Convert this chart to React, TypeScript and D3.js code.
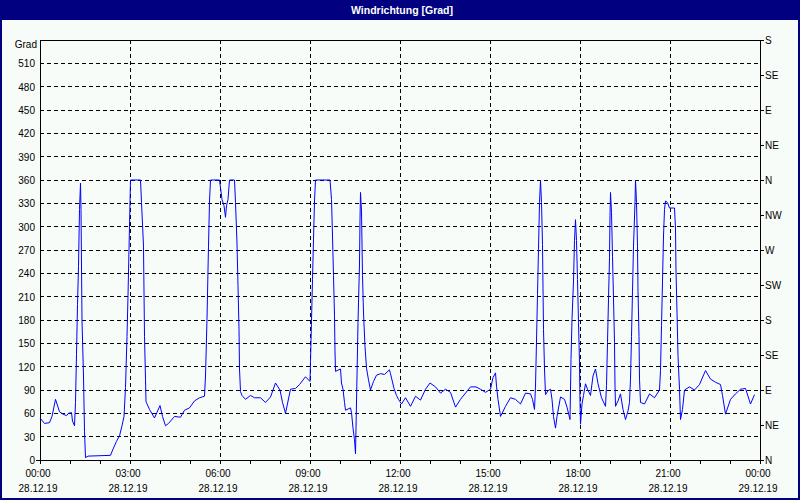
import React from 'react';
import * as d3 from 'd3';

// minutes since 28.12.19 00:00
const minutes = [
  0, 9, 19, 24, 31, 39, 46, 53, 57, 63, 65, 69, 71, 73, 75, 77, 79, 81, 82, 84, 87, 89, 91, 96, 141, 146,
  153, 159, 164, 168, 171, 174, 176, 178, 180, 181, 201, 203, 207, 209, 211, 212, 219, 229, 240, 245, 251,
  257, 269, 281, 289, 299, 309, 319, 329, 331, 334, 337, 339, 341, 359, 364, 368, 371, 373, 376, 379, 389,
  391, 394, 396, 398, 399, 401, 404, 411, 421, 429, 441, 451, 461, 471, 480, 485, 491, 501, 511, 519, 531,
  540, 541, 543, 545, 547, 549, 551, 580, 583, 585, 587, 589, 590, 591, 601, 603, 606, 609, 611, 621, 623,
  626, 629, 631, 632, 634, 636, 639, 640, 641, 643, 645, 647, 650, 653, 657, 661, 667, 673, 681, 689, 699,
  701, 708, 713, 717, 723, 731, 741, 751, 761, 771, 780, 791, 801, 811, 821, 831, 841, 851, 861, 872, 881,
  891, 901, 906, 911, 913, 916, 921, 931, 941, 951, 961, 971, 981, 985, 989, 991, 993, 995, 997, 999, 1001,
  1003, 1005, 1006, 1007, 1009, 1011, 1016, 1021, 1024, 1027, 1031, 1034, 1041, 1049, 1054, 1060, 1062,
  1064, 1067, 1069, 1071, 1073, 1075, 1077, 1079, 1080, 1081, 1084, 1087, 1091, 1095, 1101, 1106, 1111,
  1116, 1123, 1131, 1133, 1135, 1137, 1139, 1140, 1141, 1143, 1145, 1147, 1149, 1150, 1151, 1156, 1161,
  1166, 1171, 1176, 1179, 1181, 1183, 1185, 1187, 1190, 1191, 1193, 1195, 1196, 1198, 1199, 1201, 1209,
  1219, 1229, 1239, 1241, 1243, 1245, 1247, 1249, 1251, 1255, 1259, 1269, 1271, 1272, 1274, 1276, 1279,
  1281, 1285, 1289, 1299, 1309, 1319, 1331, 1341, 1351, 1361, 1365, 1371, 1381, 1391, 1401, 1411, 1421, 1429,
];

// Windrichtung in Grad
const degrees = [
  54, 47, 48, 56, 78, 62, 59, 57, 60, 61, 50, 44, 74, 136, 200, 249, 322, 356, 322, 179, 108, 37, 3, 5, 6, 14,
  24, 31, 44, 56, 93, 159, 211, 271, 331, 360, 360, 331, 275, 159, 104, 75, 65, 54, 70, 56, 44,
  47, 56, 55, 64, 67, 76, 80, 82, 108, 181, 275, 333, 360, 360, 335, 327, 312, 327, 335, 360, 360,
  331, 279, 224, 168, 117, 88, 83, 78, 83, 80, 80, 74, 81, 99, 90, 74, 60, 91, 92, 97, 107,
  101, 127, 179, 232, 284, 333, 360, 360, 335, 288, 237, 185, 139, 114, 117, 99, 91, 74, 64, 67, 61,
  41, 26, 8, 41, 108, 177, 252, 309, 344, 320, 237, 189, 146, 118, 103, 90, 101, 109, 111, 110, 116,
  111, 92, 83, 78, 72, 80, 69, 82, 77, 91, 99, 94, 86, 91, 87, 68, 78, 86, 94, 94, 91,
  87, 91, 106, 112, 95, 78, 56, 69, 80, 78, 72, 86, 85, 78, 65, 95, 153, 213, 271, 331, 360,
  331, 277, 221, 168, 117, 84, 89, 91, 78, 56, 41, 56, 81, 78, 68, 52, 129,
  181, 230, 282, 309, 282, 232, 177, 125, 74, 46, 72, 83, 98, 91, 83, 108, 117,
  98, 80, 69, 96, 151, 207, 260, 314, 344, 318, 262, 207, 151, 95, 69, 76, 85,
  65, 52, 63, 74, 104, 159, 217, 275, 331, 360, 331, 275, 217, 159, 104, 74, 72,
  85, 80, 90, 115, 173, 230, 288, 322, 333, 331, 324, 324, 297, 243, 190, 134, 91,
  52, 65, 90, 94, 90, 97, 115, 104, 100, 97, 83, 59, 78, 85, 91, 92, 72, 84,
];

const gradTicks = [0, 30, 60, 90, 120, 150, 180, 210, 240, 270, 300, 330, 360, 390, 420, 450, 480, 510];
const compassTicks = [0, 45, 90, 135, 180, 225, 270, 315, 360, 405, 450, 495, 540];
const compassLabels = ['N', 'NE', 'E', 'SE', 'S', 'SW', 'W', 'NW', 'N', 'NE', 'E', 'SE', 'S'];
const majorHours = [0, 3, 6, 9, 12, 15, 18, 21, 24];
const timeLabels = ['00:00', '03:00', '06:00', '09:00', '12:00', '15:00', '18:00', '21:00', '00:00'];
const dateLabels = ['28.12.19', '28.12.19', '28.12.19', '28.12.19', '28.12.19', '28.12.19', '28.12.19', '28.12.19', '29.12.19'];

const W = 800;
const H = 500;
const left = 40;
const right = 760;
const top = 40;
const bottom = 460;
const font = "'Liberation Sans', Arial, sans-serif";

export default function App() {
  const x = d3.scaleLinear().domain([0, 24 * 60]).range([left, right]);
  const y = d3.scaleLinear().domain([0, 540]).range([bottom, top]);

  const line = d3
    .line<number>()
    .x((_, i) => x(minutes[i]))
    .y((d) => y(d));

  const hours = d3.range(0, 25);

  return (
    <svg
      width={W}
      height={H}
      style={{ position: 'absolute', left: 0, top: 0, display: 'block' }}
      fontFamily={font}
    >
      <rect x={0} y={0} width={W} height={H} fill="#f8fcf8" />
      {/* title bar */}
      <rect x={0} y={0} width={W} height={20} fill="#000080" />
      <rect x={1} y={1} width={W - 2} height={H - 2} fill="none" stroke="#000080" strokeWidth={2} />
      <text x={402} y={14} fill="#fff" fontSize={10.5} fontWeight="bold" textAnchor="middle">
        Windrichtung [Grad]
      </text>

      {/* grid */}
      <g stroke="#000" strokeDasharray="4,3" shapeRendering="crispEdges">
        {gradTicks.filter((t) => t > 0).map((t) => (
          <line key={'h' + t} x1={left} x2={right} y1={y(t)} y2={y(t)} />
        ))}
        {majorHours.slice(1, -1).map((h) => (
          <line key={'v' + h} x1={x(h * 60)} x2={x(h * 60)} y1={top} y2={bottom} />
        ))}
      </g>

      {/* axes */}
      <g stroke="#000" shapeRendering="crispEdges">
        <line x1={left} x2={left} y1={top} y2={bottom} />
        <line x1={right} x2={right} y1={top} y2={bottom} />
        <line x1={left} x2={right + 4} y1={top} y2={top} />
        <line x1={left - 4} x2={right + 4} y1={bottom} y2={bottom} />
        {hours.map((h) => (
          <line key={'t' + h} x1={x(h * 60)} x2={x(h * 60)} y1={bottom} y2={bottom + 4} />
        ))}
        {compassTicks.map((c) => (
          <line key={'c' + c} x1={right} x2={right + 4} y1={y(c)} y2={y(c)} />
        ))}
      </g>

      {/* data */}
      <path d={line(degrees) || ''} fill="none" stroke="#0000ff" strokeWidth={1} />

      {/* labels */}
      <g fontSize={10} fill="#000">
        <text x={37} y={48} textAnchor="end">Grad</text>
        {gradTicks.map((t) => (
          <text key={'l' + t} x={35} y={y(t) + 4} textAnchor="end">{t}</text>
        ))}
        {compassTicks.map((c, i) => (
          <text key={'r' + c} x={765} y={y(c) + 4}>{compassLabels[i]}</text>
        ))}
        {majorHours.map((h, i) => (
          <g key={'x' + h}>
            <text x={x(h * 60) - 2} y={477} textAnchor="middle">{timeLabels[i]}</text>
            <text x={x(h * 60) - 2} y={492} textAnchor="middle">{dateLabels[i]}</text>
          </g>
        ))}
      </g>
    </svg>
  );
}
